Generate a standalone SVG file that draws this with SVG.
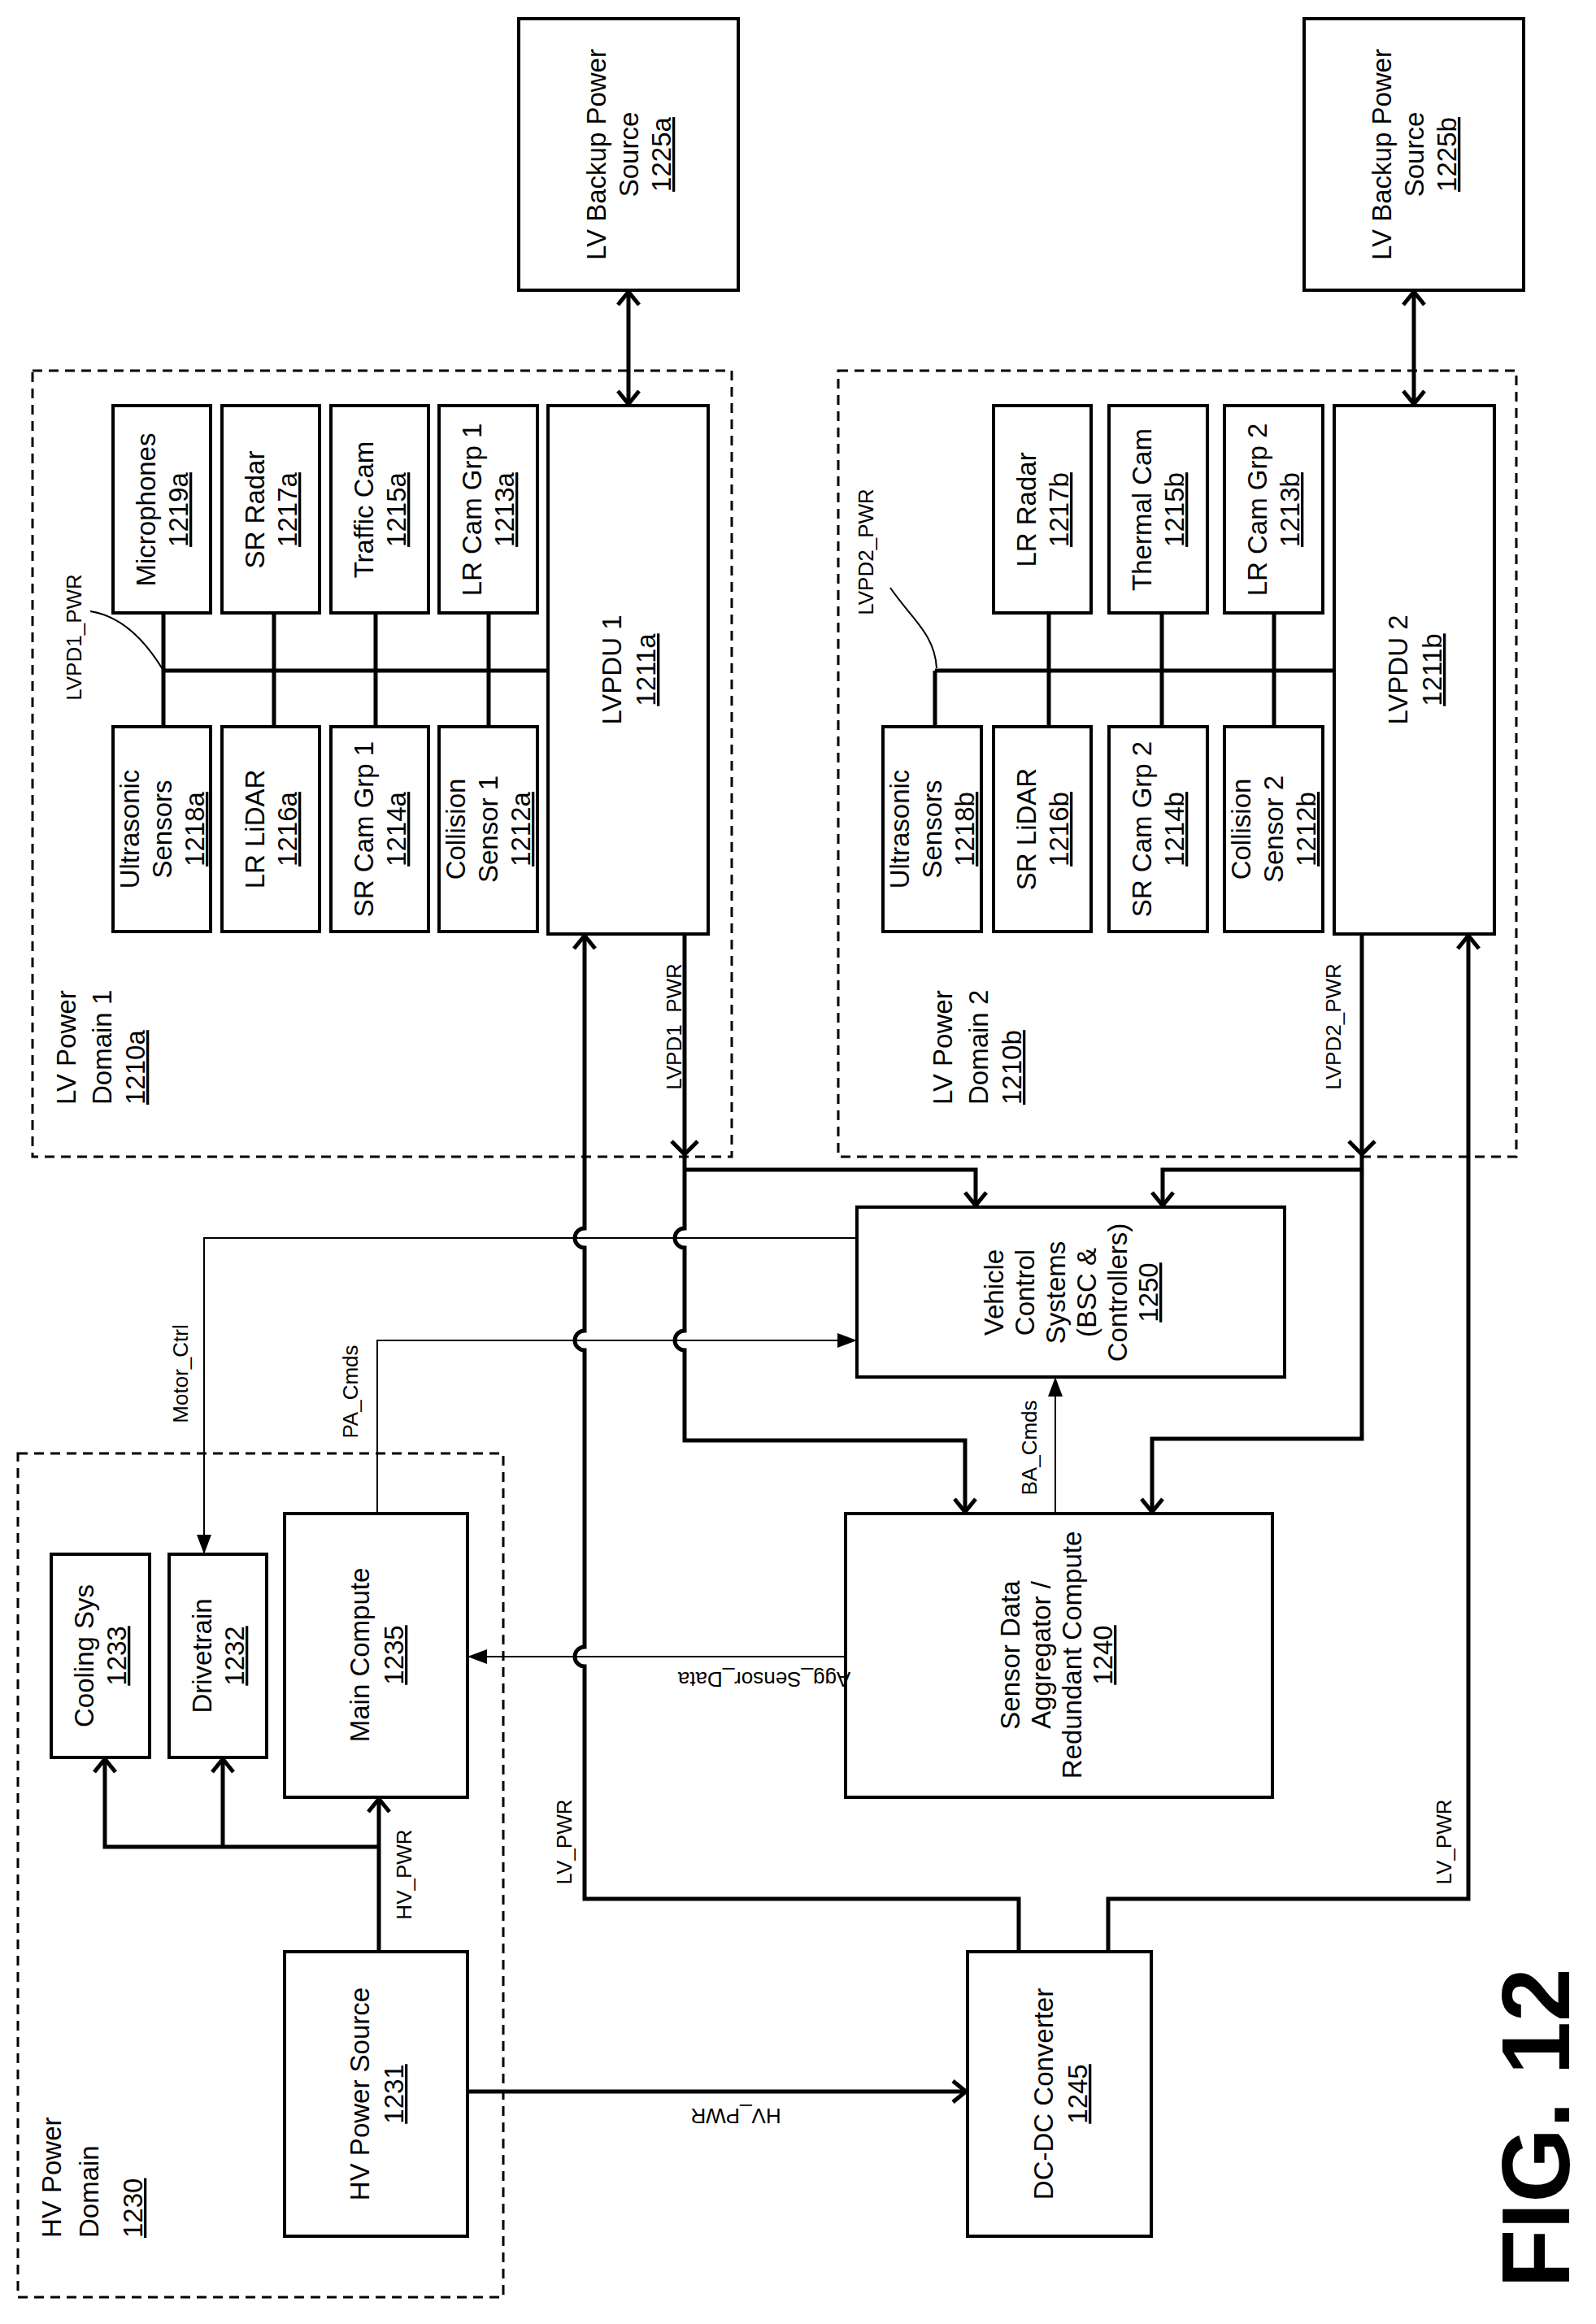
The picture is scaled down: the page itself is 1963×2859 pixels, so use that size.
<svg xmlns="http://www.w3.org/2000/svg" width="1963" height="2859" viewBox="0 0 1963 2859">
<style>
.b{fill:#fff;stroke:#000;stroke-width:4}
.d{fill:none;stroke:#000;stroke-width:3;stroke-dasharray:12 8}
.t{font-family:"Liberation Sans",Arial,sans-serif;font-size:33px;fill:#000;text-anchor:middle}
.s{font-family:"Liberation Sans",Arial,sans-serif;font-size:26px;fill:#000;text-anchor:middle;dominant-baseline:central}
.l{font-family:"Liberation Sans",Arial,sans-serif;font-size:33px;fill:#000}
.u{text-decoration:underline}
.p{fill:none;stroke:#000;stroke-width:5}
.c{fill:none;stroke:#000;stroke-width:2}
</style>
<defs>
<marker id="o" markerUnits="userSpaceOnUse" markerWidth="40" markerHeight="40" viewBox="-20 -20 40 40" refX="0" refY="0" orient="auto-start-reverse"><path d="M-16,-13 L0,0 L-16,13" fill="none" stroke="#000" stroke-width="5"/></marker>
<marker id="f" markerUnits="userSpaceOnUse" markerWidth="40" markerHeight="40" viewBox="-30 -20 40 40" refX="0" refY="0" orient="auto"><path d="M-24,-9 L0,0 L-24,9 z" fill="#000"/></marker>
</defs>
<rect width="1963" height="2859" fill="#fff"/>

<g id="lvpd1"><rect class="d" x="40" y="456" width="860" height="967"/>
<g transform="translate(81,1359) rotate(-90)"><text class="l"><tspan x="0" y="12">LV Power</tspan><tspan x="0" y="56">Domain 1</tspan><tspan x="0" y="97" class="u">1210a</tspan></text></g></g>
<g id="lvpd2"><rect class="d" x="1031" y="456" width="834" height="967"/>
<g transform="translate(1159,1359) rotate(-90)"><text class="l"><tspan x="0" y="12">LV Power</tspan><tspan x="0" y="56">Domain 2</tspan><tspan x="0" y="97" class="u">1210b</tspan></text></g></g>
<g id="hvpd"><rect class="d" x="22" y="1788" width="597" height="1038"/>
<g transform="translate(63,2753) rotate(-90)"><text class="l"><tspan x="0" y="12">HV Power</tspan><tspan x="0" y="58">Domain</tspan><tspan x="0" y="112" class="u">1230</tspan></text></g></g>

<g id="n1225a"><rect class="b" x="638" y="23" width="270" height="334"/><g transform="translate(773,190) rotate(-90)"><text class="t"><tspan x="0" y="-28">LV Backup Power</tspan><tspan x="0" y="12">Source</tspan><tspan x="0" y="52" class="u">1225a</tspan></text></g></g>
<g id="n1225b"><rect class="b" x="1604" y="23" width="270" height="334"/><g transform="translate(1739,190) rotate(-90)"><text class="t"><tspan x="0" y="-28">LV Backup Power</tspan><tspan x="0" y="12">Source</tspan><tspan x="0" y="52" class="u">1225b</tspan></text></g></g>

<g id="n1219a"><rect class="b" x="139" y="499" width="120" height="255"/><g transform="translate(199,627) rotate(-90)"><text class="t"><tspan x="0" y="-8">Microphones</tspan><tspan x="0" y="32" class="u">1219a</tspan></text></g></g>
<g id="n1217a"><rect class="b" x="273" y="499" width="120" height="255"/><g transform="translate(333,627) rotate(-90)"><text class="t"><tspan x="0" y="-8">SR Radar</tspan><tspan x="0" y="32" class="u">1217a</tspan></text></g></g>
<g id="n1215a"><rect class="b" x="407" y="499" width="120" height="255"/><g transform="translate(467,627) rotate(-90)"><text class="t"><tspan x="0" y="-8">Traffic Cam</tspan><tspan x="0" y="32" class="u">1215a</tspan></text></g></g>
<g id="n1213a"><rect class="b" x="540" y="499" width="121" height="255"/><g transform="translate(600,627) rotate(-90)"><text class="t"><tspan x="0" y="-8">LR Cam Grp 1</tspan><tspan x="0" y="32" class="u">1213a</tspan></text></g></g>
<g id="n1218a"><rect class="b" x="139" y="894" width="120" height="252"/><g transform="translate(199,1020) rotate(-90)"><text class="t"><tspan x="0" y="-28">Ultrasonic</tspan><tspan x="0" y="12">Sensors</tspan><tspan x="0" y="52" class="u">1218a</tspan></text></g></g>
<g id="n1216a"><rect class="b" x="273" y="894" width="120" height="252"/><g transform="translate(333,1020) rotate(-90)"><text class="t"><tspan x="0" y="-8">LR LiDAR</tspan><tspan x="0" y="32" class="u">1216a</tspan></text></g></g>
<g id="n1214a"><rect class="b" x="407" y="894" width="120" height="252"/><g transform="translate(467,1020) rotate(-90)"><text class="t"><tspan x="0" y="-8">SR Cam Grp 1</tspan><tspan x="0" y="32" class="u">1214a</tspan></text></g></g>
<g id="n1212a"><rect class="b" x="540" y="894" width="121" height="252"/><g transform="translate(600,1020) rotate(-90)"><text class="t"><tspan x="0" y="-28">Collision</tspan><tspan x="0" y="12">Sensor 1</tspan><tspan x="0" y="52" class="u">1212a</tspan></text></g></g>
<g id="n1211a"><rect class="b" x="674" y="499" width="197" height="650"/><g transform="translate(772,824) rotate(-90)"><text class="t"><tspan x="0" y="-8">LVPDU 1</tspan><tspan x="0" y="34" class="u">1211a</tspan></text></g></g>

<g id="n1218b"><rect class="b" x="1086" y="894" width="121" height="252"/><g transform="translate(1146,1020) rotate(-90)"><text class="t"><tspan x="0" y="-28">Ultrasonic</tspan><tspan x="0" y="12">Sensors</tspan><tspan x="0" y="52" class="u">1218b</tspan></text></g></g>
<g id="n1216b"><rect class="b" x="1222" y="894" width="120" height="252"/><g transform="translate(1282,1020) rotate(-90)"><text class="t"><tspan x="0" y="-8">SR LiDAR</tspan><tspan x="0" y="32" class="u">1216b</tspan></text></g></g>
<g id="n1214b"><rect class="b" x="1364" y="894" width="121" height="252"/><g transform="translate(1424,1020) rotate(-90)"><text class="t"><tspan x="0" y="-8">SR Cam Grp 2</tspan><tspan x="0" y="32" class="u">1214b</tspan></text></g></g>
<g id="n1212b"><rect class="b" x="1506" y="894" width="121" height="252"/><g transform="translate(1566,1020) rotate(-90)"><text class="t"><tspan x="0" y="-28">Collision</tspan><tspan x="0" y="12">Sensor 2</tspan><tspan x="0" y="52" class="u">1212b</tspan></text></g></g>
<g id="n1217b"><rect class="b" x="1222" y="499" width="120" height="255"/><g transform="translate(1282,627) rotate(-90)"><text class="t"><tspan x="0" y="-8">LR Radar</tspan><tspan x="0" y="32" class="u">1217b</tspan></text></g></g>
<g id="n1215b"><rect class="b" x="1364" y="499" width="121" height="255"/><g transform="translate(1424,627) rotate(-90)"><text class="t"><tspan x="0" y="-8">Thermal Cam</tspan><tspan x="0" y="32" class="u">1215b</tspan></text></g></g>
<g id="n1213b"><rect class="b" x="1506" y="499" width="121" height="255"/><g transform="translate(1566,627) rotate(-90)"><text class="t"><tspan x="0" y="-8">LR Cam Grp 2</tspan><tspan x="0" y="32" class="u">1213b</tspan></text></g></g>
<g id="n1211b"><rect class="b" x="1641" y="499" width="197" height="650"/><g transform="translate(1739,824) rotate(-90)"><text class="t"><tspan x="0" y="-8">LVPDU 2</tspan><tspan x="0" y="34" class="u">1211b</tspan></text></g></g>

<g id="n1250"><rect class="b" x="1054" y="1485" width="526" height="209"/><g transform="translate(1317,1590) rotate(-90)"><text class="t"><tspan x="0" y="-83">Vehicle</tspan><tspan x="0" y="-45">Control</tspan><tspan x="0" y="-7">Systems</tspan><tspan x="0" y="31">(BSC &amp;</tspan><tspan x="0" y="69">Controllers)</tspan><tspan x="0" y="107" class="u">1250</tspan></text></g></g>
<g id="n1240"><rect class="b" x="1040" y="1862" width="525" height="349"/><g transform="translate(1302,2036) rotate(-90)"><text class="t"><tspan x="0" y="-48">Sensor Data</tspan><tspan x="0" y="-10">Aggregator /</tspan><tspan x="0" y="28">Redundant Compute</tspan><tspan x="0" y="66" class="u">1240</tspan></text></g></g>
<g id="n1245"><rect class="b" x="1190" y="2401" width="226" height="350"/><g transform="translate(1303,2576) rotate(-90)"><text class="t"><tspan x="0" y="-8">DC-DC Converter</tspan><tspan x="0" y="34" class="u">1245</tspan></text></g></g>
<g id="n1235"><rect class="b" x="350" y="1862" width="225" height="349"/><g transform="translate(462,2036) rotate(-90)"><text class="t"><tspan x="0" y="-8">Main Compute</tspan><tspan x="0" y="34" class="u">1235</tspan></text></g></g>
<g id="n1231"><rect class="b" x="350" y="2401" width="225" height="350"/><g transform="translate(462,2576) rotate(-90)"><text class="t"><tspan x="0" y="-8">HV Power Source</tspan><tspan x="0" y="34" class="u">1231</tspan></text></g></g>
<g id="n1233"><rect class="b" x="63" y="1912" width="121" height="250"/><g transform="translate(123,2037) rotate(-90)"><text class="t"><tspan x="0" y="-8">Cooling Sys</tspan><tspan x="0" y="32" class="u">1233</tspan></text></g></g>
<g id="n1232"><rect class="b" x="208" y="1912" width="120" height="250"/><g transform="translate(268,2037) rotate(-90)"><text class="t"><tspan x="0" y="-8">Drivetrain</tspan><tspan x="0" y="32" class="u">1232</tspan></text></g></g>

<g id="connectors">
<path class="p" d="M773,359 V497" marker-start="url(#o)" marker-end="url(#o)"/>
<path class="p" d="M1739,359 V497" marker-start="url(#o)" marker-end="url(#o)"/>
<path class="p" d="M201,825 H674 M201,754 V894 M337,754 V894 M462,754 V894 M601,754 V894"/>
<path class="p" d="M1150,825 H1641 M1150,825 V894 M1290,754 V894 M1429,754 V894 M1567,754 V894"/>
<path class="c" d="M111,752 C150,758 180,790 201,825"/>
<path class="c" d="M1095,723 C1120,760 1150,780 1152,822"/>
<path class="p" d="M842,1149 V1511 a12,12 0 0,0 0,24 V1637 a12,12 0 0,0 0,24 V1772 H1187 V1860" marker-end="url(#o)"/>
<path class="p" d="M842,1439 H1200 V1483" marker-end="url(#o)"/>
<path class="p" d="M826,1404 L842,1420 L858,1404"/>
<path class="p" d="M1675,1149 V1770 H1417 V1860" marker-end="url(#o)"/>
<path class="p" d="M1675,1439 H1430 V1483" marker-end="url(#o)"/>
<path class="p" d="M1659,1404 L1675,1420 L1691,1404"/>
<path class="p" d="M1253,2401 V2336 H719 V2050 a12,12 0 0,1 0,-24 V1661 a12,12 0 0,1 0,-24 V1535 a12,12 0 0,1 0,-24 V1151" marker-end="url(#o)"/>
<path class="p" d="M1363,2401 V2336 H1806 V1151" marker-end="url(#o)"/>
<path class="p" d="M575,2573 H1188" marker-end="url(#o)"/>
<path class="p" d="M466,2401 V2213" marker-end="url(#o)"/>
<path class="p" d="M129,2164 V2272 H466" marker-start="url(#o)"/>
<path class="p" d="M274,2272 V2164" marker-end="url(#o)"/>
<path class="c" d="M1054,1523 H251 V1912" marker-end="url(#f)"/>
<path class="c" d="M464,1862 V1649 H1054" marker-end="url(#f)"/>
<path class="c" d="M1040,2038 H575" marker-end="url(#f)"/>
<path class="c" d="M1298,1862 V1694" marker-end="url(#f)"/>
</g>

<g id="labels">
<text class="s" transform="translate(91,784) rotate(-90)">LVPD1_PWR</text>
<text class="s" transform="translate(829,1263) rotate(-90)">LVPD1_PWR</text>
<text class="s" transform="translate(1065,679) rotate(-90)">LVPD2_PWR</text>
<text class="s" transform="translate(1640,1263) rotate(-90)">LVPD2_PWR</text>
<text class="s" transform="translate(222,1690) rotate(-90)">Motor_Ctrl</text>
<text class="s" transform="translate(431,1712) rotate(-90)">PA_Cmds</text>
<text class="s" transform="translate(497,2306) rotate(-90)">HV_PWR</text>
<text class="s" transform="translate(694,2266) rotate(-90)">LV_PWR</text>
<text class="s" transform="translate(1776,2266) rotate(-90)">LV_PWR</text>
<text class="s" transform="translate(1266,1781) rotate(-90)">BA_Cmds</text>
<text class="s" transform="translate(940,2066) rotate(180)">Agg_Sensor_Data</text>
<text class="s" transform="translate(905,2603) rotate(180)">HV_PWR</text>
<text transform="translate(1930,2618) rotate(-90)" font-family="Liberation Sans,Arial,sans-serif" font-size="118" font-weight="bold" text-anchor="middle">FIG. 12</text>
</g>
</svg>
